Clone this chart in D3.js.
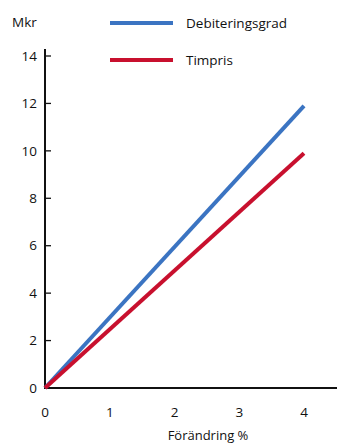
<!DOCTYPE html>
<html><head><meta charset="utf-8">
<script src="https://cdn.jsdelivr.net/npm/d3@7"></script>
<style>body{margin:0;background:#fff}svg{display:block}text{font-family:"Open Sans",sans-serif;fill:#111}</style>
</head><body><svg id="c" width="337" height="445"></svg>
<script>
const xTicks = [0,1,2,3,4];
const yTicks = [0,2,4,6,8,10,12,14];
const xValues = [0,4];
const debiteringsgrad = [0,11.9];
const timpris = [0,9.9];
const seriesNames = ["Debiteringsgrad","Timpris"];
const colors = ["#3b74c2","#c8102e"];

const svg = d3.select("#c");
const x = d3.scaleLinear().domain([0,4]).range([45,304]);
const y = d3.scaleLinear().domain([0,14]).range([388,56]);

svg.append("line").attr("x1",45).attr("x2",337).attr("y1",y(0)).attr("y2",y(0)).attr("stroke","#111").attr("stroke-width",2);
svg.append("line").attr("x1",45).attr("x2",45).attr("y1",49).attr("y2",y(0)+1).attr("stroke","#111").attr("stroke-width",2);

yTicks.forEach(v=>{
  if(v>0) svg.append("line").attr("x1",45).attr("x2",51).attr("y1",y(v)).attr("y2",y(v)).attr("stroke","#111").attr("stroke-width",1.3);
  svg.append("text").attr("x",37).attr("y",y(v)).attr("dy","0.35em").attr("text-anchor","end").attr("font-size",13.5).text(v);
});
xTicks.forEach(v=>{
  svg.append("text").attr("x",x(v)).attr("y",412).attr("dy","0.35em").attr("text-anchor","middle").attr("font-size",13.5).text(v);
});
svg.append("text").attr("x",208).attr("y",440).attr("text-anchor","middle").attr("font-size",13).text("Förändring %");
svg.append("text").attr("x",12).attr("y",27).attr("font-size",13.5).text("Mkr");

const line = d3.line().x((d,i)=>x(xValues[i])).y(d=>y(d));
[debiteringsgrad,timpris].forEach((s,i)=>{
  svg.append("path").attr("d",line(s)).attr("fill","none").attr("stroke",colors[i]).attr("stroke-width",4);
});

const ly = [23,60];
seriesNames.forEach((n,i)=>{
  svg.append("line").attr("x1",110).attr("x2",173).attr("y1",ly[i]).attr("y2",ly[i]).attr("stroke",colors[i]).attr("stroke-width",4);
  svg.append("text").attr("x",186).attr("y",ly[i]).attr("dy","0.35em").attr("font-size",13.5).text(n);
});
</script></body></html>
